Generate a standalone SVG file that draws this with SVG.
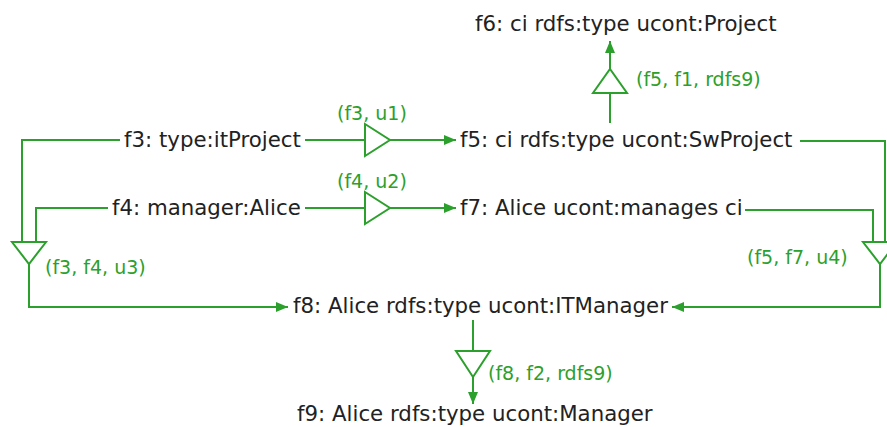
<svg xmlns="http://www.w3.org/2000/svg" width="887" height="427" viewBox="0 0 887 427">
<style>
.n{font-family:"DejaVu Sans",sans-serif;font-size:21.3px;fill:#222}
.l{font-family:"DejaVu Sans",sans-serif;font-size:19px;fill:#2ca02c}
.e{fill:none;stroke:#2ca02c;stroke-width:2}
.t{fill:#fff;stroke:#2ca02c;stroke-width:2}
</style>
<defs>
<marker id="a" viewBox="0 0 12 10" refX="12" refY="5" markerWidth="12" markerHeight="10" markerUnits="userSpaceOnUse" orient="auto">
<path d="M0,0L12,5L0,10z" fill="#2ca02c"/>
</marker>
</defs>
<g id="connectors">
<path class="e" d="M305,140H365" /><polygon class="t" points="365,124 390,140 365,156"/><path class="e" d="M390,140H456" marker-end="url(#a)"/>
<path class="e" d="M305,208H365" /><polygon class="t" points="365,192 390,208 365,224"/><path class="e" d="M390,208H456" marker-end="url(#a)"/>
<path class="e" d="M610,123V93" /><polygon class="t" points="593,93 627,93 610,69"/><path class="e" d="M610,69V41" marker-end="url(#a)"/>
<path class="e" d="M120,140H22V242M108,208H36V242"/><polygon class="t" points="12,242 46,242 29,264"/><path class="e" d="M29,264V307H288" marker-end="url(#a)"/>
<path class="e" d="M800,141H885V242M745,210H873V242"/><polygon class="t" points="863,242 897,242 880,264"/><path class="e" d="M880,264V307H672" marker-end="url(#a)"/>
<path class="e" d="M473,320V351"/><polygon class="t" points="456,351 490,351 473,377"/><path class="e" d="M473,377V404" marker-end="url(#a)"/>
<text class="l" x="337" y="120">(f3, u1)</text>
<text class="l" x="337" y="188">(f4, u2)</text>
<text class="l" x="636" y="86">(f5, f1, rdfs9)</text>
<text class="l" x="45" y="274">(f3, f4, u3)</text>
<text class="l" x="747" y="264">(f5, f7, u4)</text>
<text class="l" x="488" y="380">(f8, f2, rdfs9)</text>
</g>
<g id="f3"><text class="n" x="124" y="147">f3: type:itProject</text></g>
<g id="f4"><text class="n" x="112" y="215">f4: manager:Alice</text></g>
<g id="f5"><text class="n" x="460" y="147">f5: ci rdfs:type ucont:SwProject</text></g>
<g id="f6"><text class="n" x="475" y="31">f6: ci rdfs:type ucont:Project</text></g>
<g id="f7"><text class="n" x="460" y="215">f7: Alice ucont:manages ci</text></g>
<g id="f8"><text class="n" x="293" y="313">f8: Alice rdfs:type ucont:ITManager</text></g>
<g id="f9"><text class="n" x="297" y="421">f9: Alice rdfs:type ucont:Manager</text></g>
</svg>
